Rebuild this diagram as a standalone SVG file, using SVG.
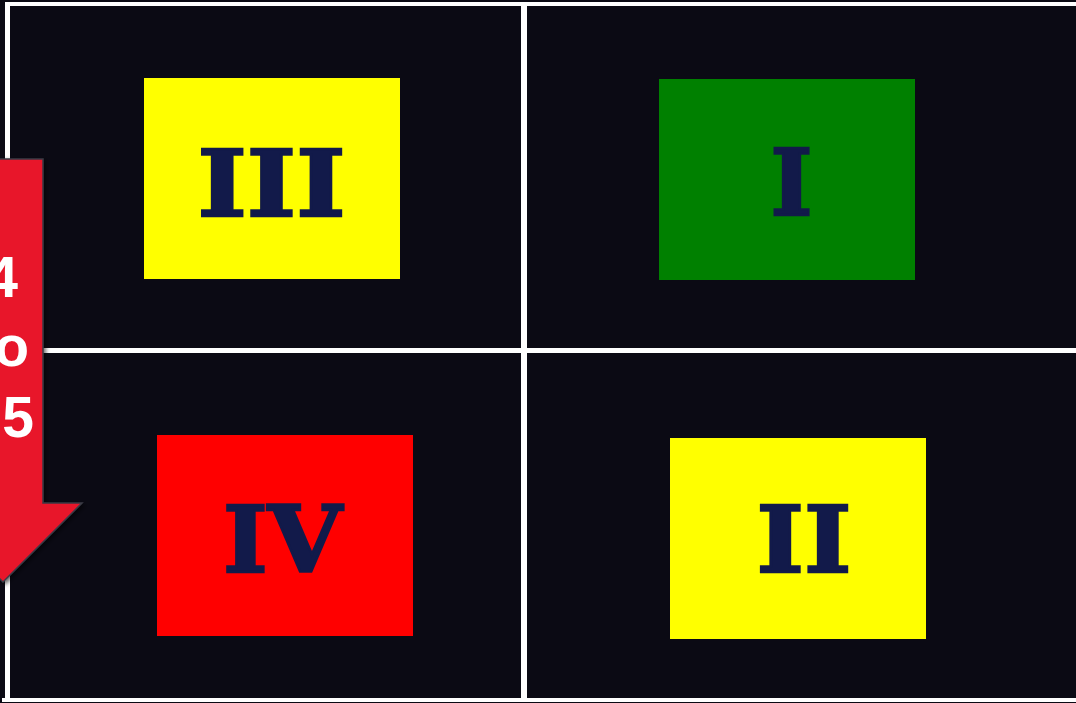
<svg xmlns="http://www.w3.org/2000/svg" width="1076" height="703" viewBox="0 0 1076 703">
<defs>
<style>
.bg{fill:#0b0a14}
.ln{fill:#ffffff}
.box{stroke:none}
.num{font-family:"DejaVu Serif",serif;font-weight:bold;font-size:92px;fill:#121a4a;stroke:#121a4a;stroke-width:2.5;stroke-linejoin:miter;text-anchor:middle}
.arr{font-family:"Liberation Sans",Arial,sans-serif;font-weight:bold;font-size:57px;fill:#ffffff;text-anchor:end}
</style>
<filter id="sh" x="-20%" y="-20%" width="140%" height="140%">
<feDropShadow dx="2" dy="2" stdDeviation="2" flood-color="#000" flood-opacity="0.6"/>
</filter>
</defs>
<rect class="bg" x="0" y="0" width="1076" height="703"/>
<g id="grid">
<rect class="ln" x="8" y="2" width="1068" height="4"/>
<rect class="ln" x="5" y="2" width="5" height="697"/>
<rect class="ln" x="2" y="698" width="1074" height="4"/>
<rect class="ln" x="5" y="348" width="1071" height="5"/>
<rect class="ln" x="521" y="2" width="6" height="697"/>
</g>
<g id="node-III">
<rect class="box" x="144" y="78" width="256" height="201" fill="#ffff00"/>
<text class="num" x="271.5" y="216" textLength="148" lengthAdjust="spacingAndGlyphs">III</text>
</g>
<g id="node-I">
<rect class="box" x="659" y="79" width="256" height="201" fill="#008000"/>
<text class="num" x="791.5" y="215" textLength="42" lengthAdjust="spacingAndGlyphs">I</text>
</g>
<g id="node-IV">
<rect class="box" x="157" y="435" width="256" height="201" fill="#ff0000"/>
<text class="num" x="282.5" y="572" textLength="119" lengthAdjust="spacingAndGlyphs">IV</text>
</g>
<g id="node-II">
<rect class="box" x="670" y="438" width="256" height="201" fill="#ffff00"/>
<text class="num" x="804" y="572" textLength="95" lengthAdjust="spacingAndGlyphs">II</text>
</g>
<g id="arrow">
<polygon points="-40,159 43,159 43,503 82,503 3,582 -76,503 -40,503" fill="#e8132b" stroke="#3a3a44" stroke-width="1.5" filter="url(#sh)"/>
<text class="arr" x="18" y="297">4</text>
<text class="arr" x="29" y="366">o</text>
<text class="arr" x="34" y="437">5</text>
</g>
</svg>
